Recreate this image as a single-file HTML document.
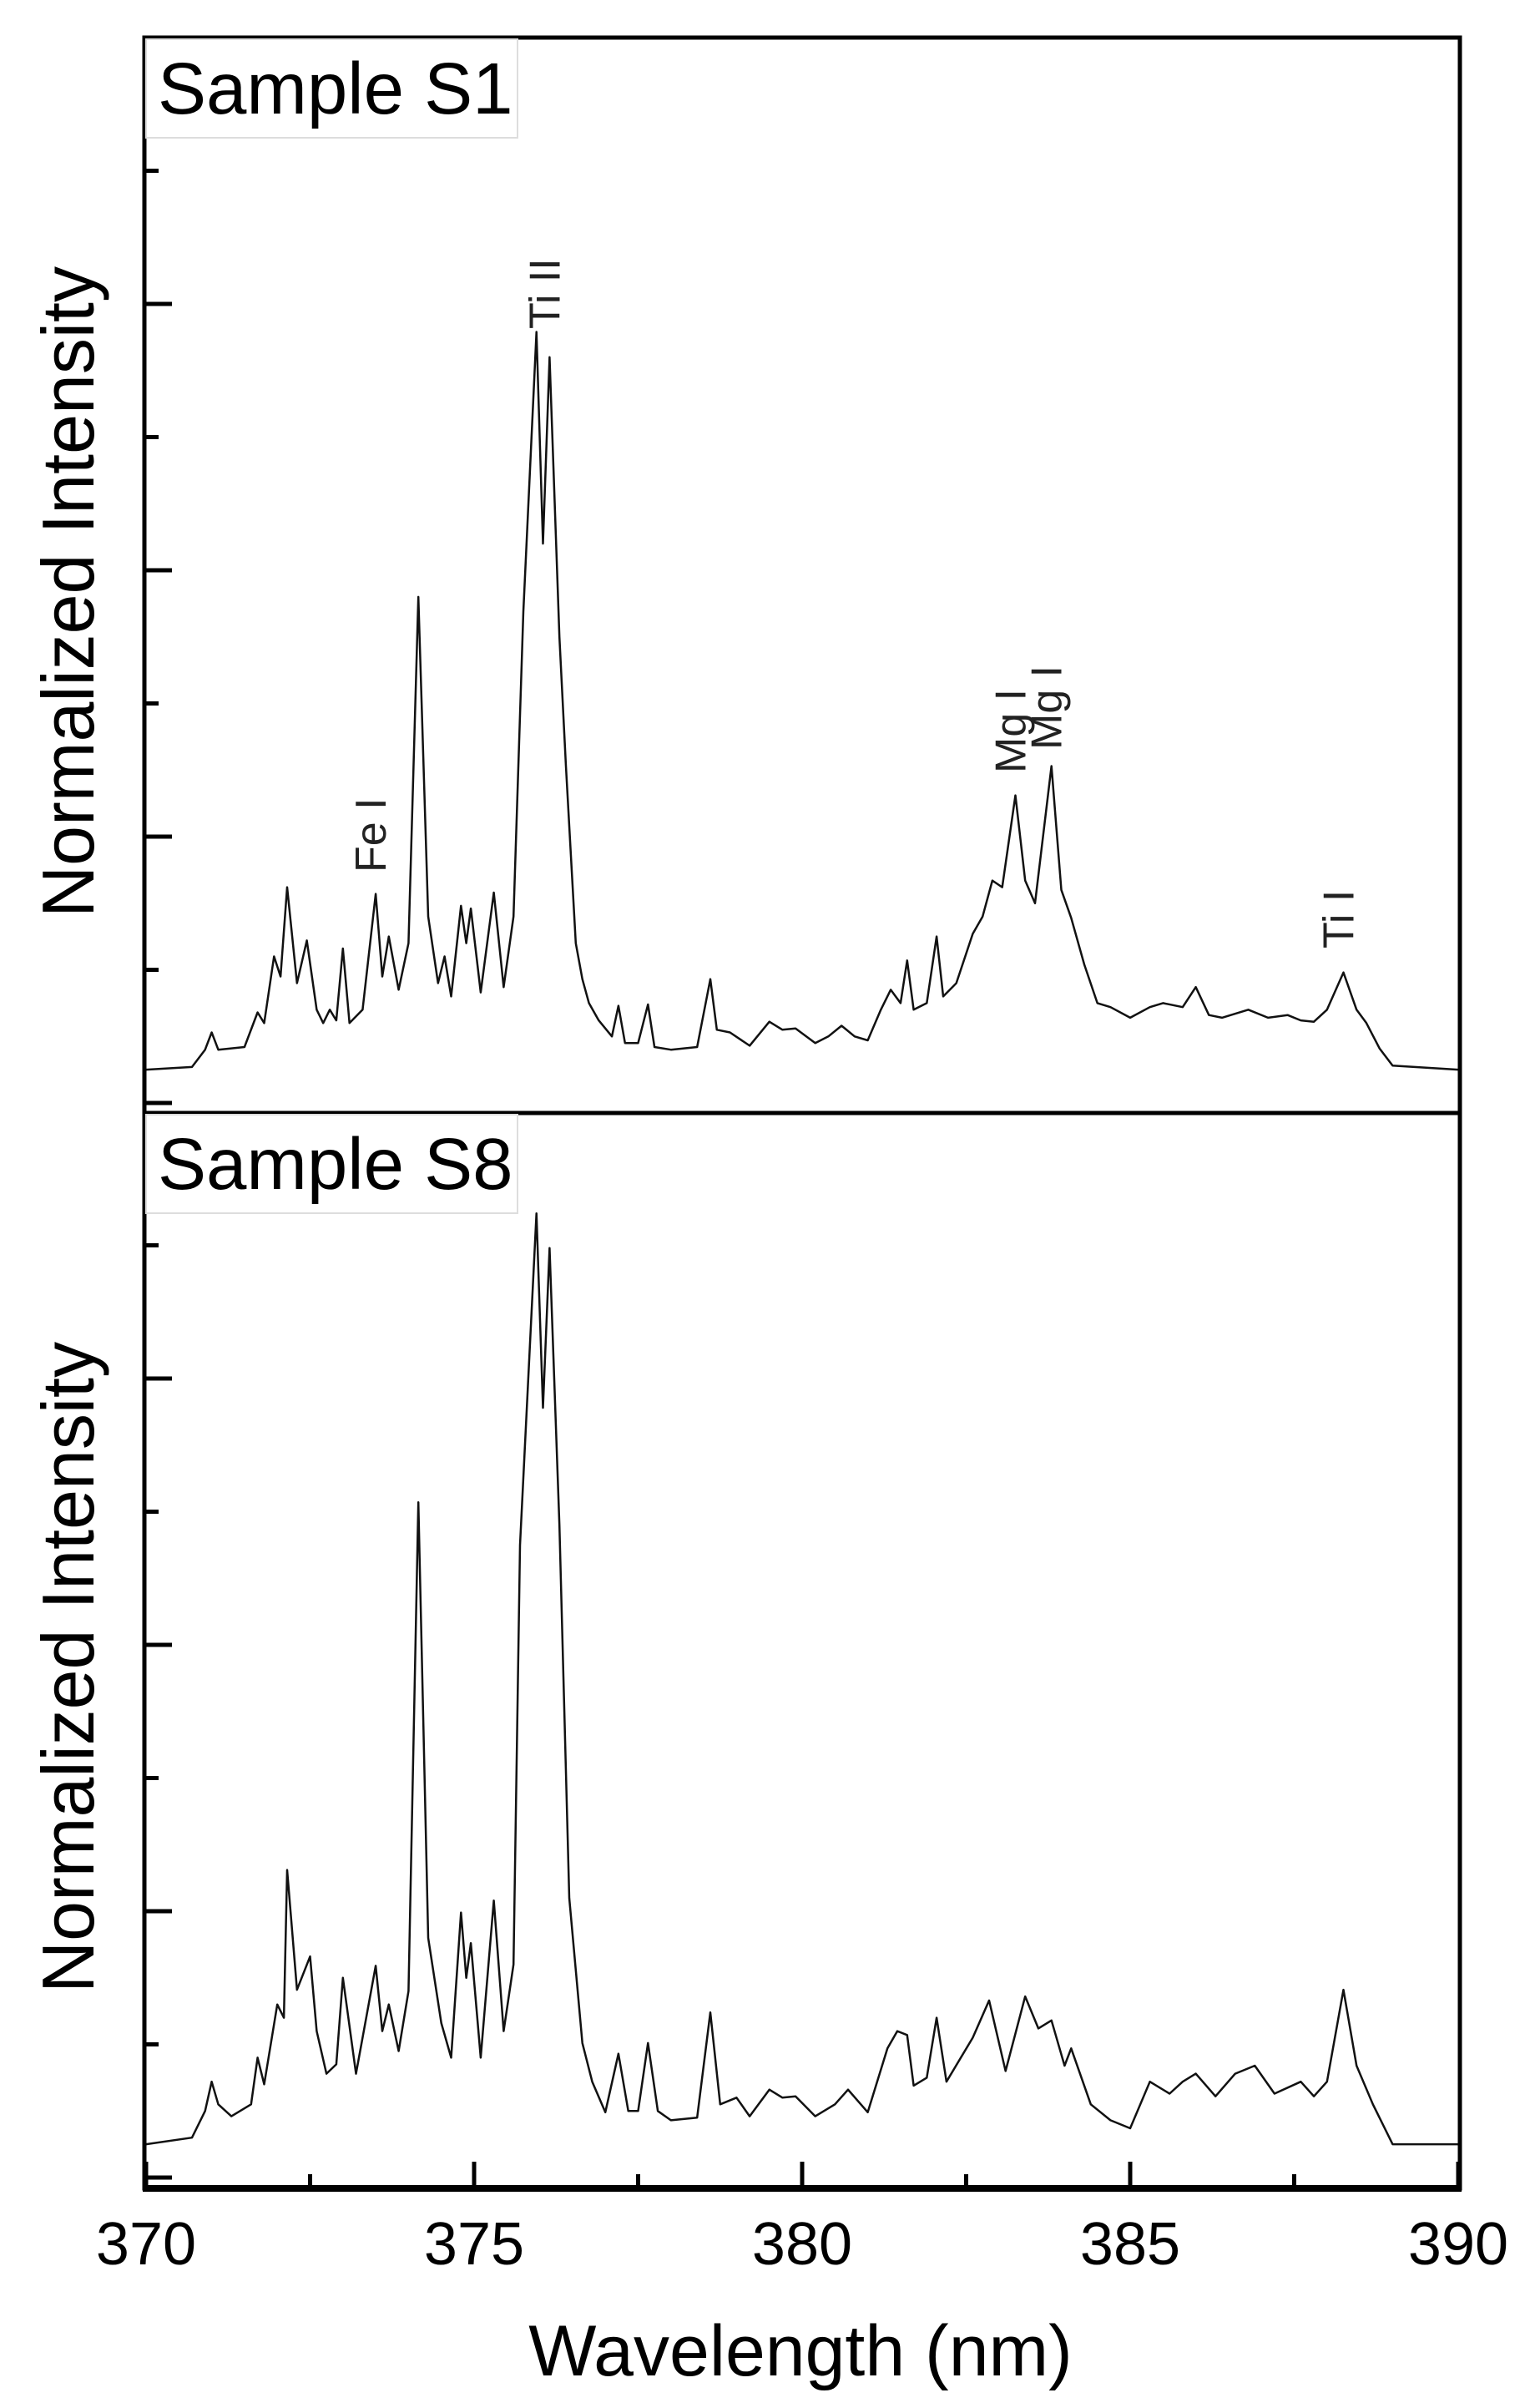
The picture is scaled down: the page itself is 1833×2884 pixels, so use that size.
<!DOCTYPE html>
<html><head><meta charset="utf-8"><style>
html,body{margin:0;padding:0;background:#fff;}
svg{display:block;font-family:"Liberation Sans",Arial,sans-serif;}
</style></head><body>
<svg id="chart" width="1833" height="2884" viewBox="0 0 1833 2884" xmlns="http://www.w3.org/2000/svg">
<rect x="0" y="0" width="1833" height="2884" fill="#fff"/>
<g id="plots"></g>
</svg>
<script>
// Wavelengths and intensities (in y-tick units)
const s1Wavelength = [370.0,370.7,370.9,371.0,371.1,371.5,371.7,371.8,371.95,372.05,372.15,372.3,372.45,372.6,372.7,372.8,372.9,373.0,373.1,373.3,373.5,373.6,373.7,373.85,374.0,374.15,374.3,374.45,374.55,374.65,374.8,374.88,374.95,375.1,375.3,375.45,375.6,375.75,375.95,376.05,376.15,376.3,376.4,376.55,376.65,376.75,376.9,377.1,377.2,377.3,377.5,377.65,377.75,378.0,378.4,378.6,378.7,378.9,379.2,379.5,379.7,379.9,380.2,380.4,380.6,380.8,381.0,381.2,381.35,381.5,381.6,381.7,381.9,382.05,382.15,382.35,382.6,382.75,382.9,383.05,383.25,383.4,383.55,383.8,383.95,384.1,384.3,384.5,384.7,385.0,385.3,385.5,385.8,386.0,386.2,386.4,386.8,387.1,387.4,387.6,387.8,388.0,388.25,388.45,388.6,388.8,389.0,390.0];
const s1Intensity = [0.25,0.27,0.4,0.53,0.4,0.42,0.68,0.6,1.1,0.95,1.62,0.9,1.22,0.7,0.6,0.7,0.62,1.16,0.6,0.7,1.57,0.95,1.25,0.85,1.2,3.8,1.4,0.9,1.1,0.8,1.48,1.2,1.46,0.83,1.58,0.87,1.4,3.69,5.79,4.2,5.6,3.5,2.53,1.2,0.93,0.75,0.62,0.5,0.73,0.45,0.45,0.74,0.42,0.40,0.42,0.93,0.55,0.53,0.43,0.61,0.55,0.56,0.45,0.5,0.58,0.5,0.47,0.7,0.85,0.75,1.07,0.7,0.75,1.25,0.8,0.9,1.27,1.4,1.67,1.62,2.31,1.67,1.5,2.53,1.6,1.39,1.04,0.75,0.72,0.64,0.72,0.75,0.72,0.87,0.66,0.64,0.70,0.64,0.66,0.62,0.61,0.70,0.98,0.7,0.6,0.41,0.28,0.25];
const s8Wavelength = [370.0,370.7,370.9,371.0,371.1,371.3,371.6,371.7,371.8,372.0,372.1,372.15,372.3,372.5,372.6,372.75,372.9,373.0,373.2,373.5,373.6,373.7,373.85,374.0,374.15,374.3,374.5,374.65,374.8,374.88,374.95,375.1,375.3,375.45,375.6,375.7,375.95,376.05,376.15,376.3,376.45,376.65,376.8,377.0,377.2,377.35,377.5,377.65,377.8,378.0,378.4,378.6,378.75,379.0,379.2,379.5,379.7,379.9,380.2,380.5,380.7,381.0,381.3,381.45,381.6,381.7,381.9,382.05,382.2,382.6,382.85,383.1,383.4,383.6,383.8,384.0,384.1,384.4,384.7,385.0,385.3,385.6,385.8,386.0,386.3,386.6,386.9,387.2,387.6,387.8,388.0,388.25,388.45,388.7,389.0,390.0];
const s8Intensity = [0.25,0.3,0.5,0.72,0.55,0.46,0.55,0.9,0.7,1.3,1.2,2.31,1.41,1.66,1.1,0.78,0.85,1.5,0.78,1.59,1.1,1.3,0.95,1.4,5.07,1.8,1.16,0.9,1.99,1.5,1.76,0.9,2.08,1.1,1.6,4.75,7.24,5.78,6.98,4.9,2.1,1.01,0.72,0.49,0.93,0.5,0.5,1.01,0.5,0.43,0.45,1.24,0.55,0.6,0.46,0.66,0.6,0.61,0.46,0.55,0.66,0.49,0.97,1.1,1.07,0.69,0.75,1.2,0.72,1.05,1.33,0.8,1.36,1.12,1.18,0.84,0.97,0.55,0.43,0.37,0.72,0.63,0.72,0.78,0.61,0.78,0.84,0.63,0.72,0.61,0.72,1.41,0.84,0.55,0.25,0.25];
const xTickValues = [370,375,380,385,390];
const xTickLabels = ["370","375","380","385","390"];
const yTickCount = 8;

const NS = "http://www.w3.org/2000/svg";
const root = document.getElementById('plots');
const X0 = 175, X1 = 1747;
function xScale(w){ return X0 + (w - 370) / 20 * (X1 - X0); }
function mk(tag, attrs, parent){ const e = document.createElementNS(NS, tag); for (const k in attrs) e.setAttribute(k, attrs[k]); (parent||root).appendChild(e); return e; }

function panel(top, bottom, zeroY, wl, vals, title, nameKey){
  const g = mk('g', {});
  
  
  const unit = 159.5;
  const yScale = v => zeroY - v * unit;
  let d = '';
  for (let i = 0; i < wl.length; i++) d += (i ? 'L' : 'M') + xScale(wl[i]).toFixed(1) + ' ' + yScale(vals[i]).toFixed(1);
  const line = mk('path', {d: d, fill: 'none', stroke: '#111', 'stroke-width': 2.5, 'stroke-linejoin': 'round'}, g);
  
  
  for (let k = 0; k < yTickCount; k++) {
    const y = zeroY - k * unit;
    const len = (k % 2 === 0) ? 33 : 17;
    const t = mk('line', {x1: 173, x2: 173 + len, y1: y, y2: y, stroke: '#000', 'stroke-width': 5}, g);
    
    
  }
  const fr = mk('rect', {x: 173, y: top, width: 1576, height: bottom - top, fill: 'none', stroke: '#000', 'stroke-width': 5}, g);
  
  
  const tb = mk('rect', {x: 175, y: top + 2, width: 445, height: 118, fill: '#fff', stroke: '#ddd', 'stroke-width': 2}, g);
  
  
  const tt = mk('text', {x: 189, y: top + 91, 'font-size': 87, fill: '#000'}, g);
  tt.textContent = title;
  
  
  const cy = (top + bottom) / 2 + 20;
  const yl = mk('text', {x: 0, y: 0, 'font-size': 88, 'text-anchor': 'middle', fill: '#000', textLength: 780, lengthAdjust: 'spacingAndGlyphs', transform: 'translate(112,' + cy + ') rotate(-90)'}, g);
  yl.textContent = 'Normalized Intensity';
  
  
  return g;
}

panel(45, 1333, 1321, s1Wavelength, s1Intensity, 'Sample S1', 's1');
panel(1333, 2621, 2608, s8Wavelength, s8Intensity, 'Sample S8', 's8');

for (let i = 0; i <= 8; i++) {
  const w = 370 + i * 2.5;
  const x = xScale(w);
  const len = (i % 2 === 0) ? 32 : 17;
  const t = mk('line', {x1: x, x2: x, y1: 2621, y2: 2621 - len, stroke: '#000', 'stroke-width': 5});
  
  
}
const ba = mk('line', {x1: 171, x2: 1751, y1: 2621, y2: 2621, stroke: '#000', 'stroke-width': 8});


for (let i = 0; i < xTickValues.length; i++) {
  const tl = mk('text', {x: xScale(xTickValues[i]), y: 2712, 'font-size': 72, 'text-anchor': 'middle', fill: '#000'});
  tl.textContent = xTickLabels[i];
  
  
}
const xt = mk('text', {x: 959, y: 2845, 'font-size': 86, 'text-anchor': 'middle', fill: '#000'});
xt.textContent = 'Wavelength (nm)';



const annLabels = ['Fe I','Ti II','Mg I','Mg I','Ti I'];
const annWavelength = [373.5, 376.15, 383.25, 383.8, 388.25];
const annBottomY = [1045, 394, 926, 898, 1136];
for (let i = 0; i < annLabels.length; i++) {
  const x = xScale(annWavelength[i]) + 12;
  const a = mk('text', {x: 0, y: 0, 'font-size': 52, fill: '#222', transform: 'translate(' + x + ',' + annBottomY[i] + ') rotate(-90)'});
  a.textContent = annLabels[i];
  
  
}
</script>
</body></html>
